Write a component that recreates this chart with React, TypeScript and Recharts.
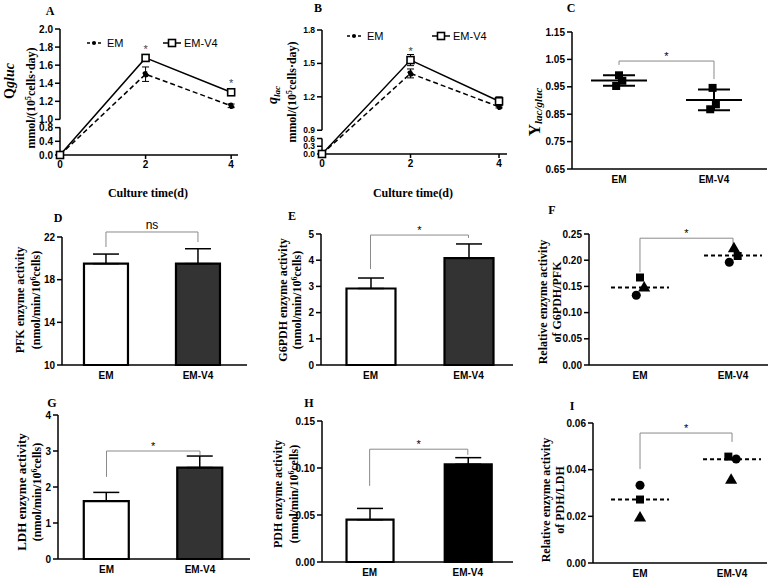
import React from "react";
import {
  Bar,
  Cell,
  ComposedChart,
  ErrorBar,
  LabelList,
  Legend,
  Line,
  ReferenceLine,
  Scatter,
  XAxis,
  YAxis,
  ZAxis,
} from "recharts";

const SANS = "'Liberation Sans', Arial, sans-serif";
const SERIF = "'Liberation Serif', 'Times New Roman', serif";

// ---- A / B: specific rates over culture time
const days = [0, 2, 4];

const qglucEM = [0, 1.5, 1.15];
const qglucEMSd = [0, 0.08, 0.02];
const qglucV4 = [0, 1.68, 1.3];
const qglucV4Sd = [0, 0.03, 0.015];
const qglucSig = [false, true, true];
const qglucTicks = [0, 0.4, 0.8, 1.0, 1.2, 1.4, 1.6, 1.8, 2.0];

const qlacEM = [0, 1.41, 1.11];
const qlacEMSd = [0, 0.04, 0.01];
const qlacV4 = [0, 1.53, 1.16];
const qlacV4Sd = [0, 0.05, 0.04];
const qlacSig = [false, true, false];
const qlacTicks = [0, 0.3, 0.6, 0.9, 1.2, 1.5, 1.8];

// ---- C: lactate / glucose yield
const groups = ["EM", "EM-V4"];
const yieldEM = [0.992, 0.972, 0.953];
const yieldV4 = [0.946, 0.886, 0.868];
const yieldEMx = [1.0, 1.035, 0.97];
const yieldV4x = [1.985, 2.02, 1.96];
const yieldMean = [0.973, 0.902];
const yieldSd = [0.019, 0.038];
const yieldTicks = [0.65, 0.75, 0.85, 0.95, 1.05, 1.15];
const yieldBracket = [1.03, 1.044, 0.978];

// ---- D, E, G, H: enzyme activities (mean, sd)
const pfk = [19.5, 19.5];
const pfkSd = [0.9, 1.4];
const pfkBracket = [21.06, 22.47, 21.53];

const g6pdh = [2.92, 4.08];
const g6pdhSd = [0.4, 0.54];
const g6pdhBracket = [3.66, 4.96, 4.85];

const ldh = [1.61, 2.54];
const ldhSd = [0.24, 0.32];
const ldhBracket = [2.28, 3.0, 2.89];

const pdh = [0.045, 0.104];
const pdhSd = [0.012, 0.007];
const pdhBracket = [0.081, 0.12, 0.114];

// ---- F: G6PDH/PFK ratio (three replicates, one marker each)
const gpCircle = [0.133, 0.196];
const gpSquare = [0.167, 0.208];
const gpTriangle = [0.147, 0.222];
const gpCircleX = [0.96, 1.96];
const gpSquareX = [1.0, 2.05];
const gpTriangleX = [1.045, 2.01];
const gpMedian = [0.148, 0.209];
const gpBracket = [0.177, 0.242, 0.229];

// ---- I: PDH/LDH ratio
const plCircle = [0.0333, 0.0446];
const plSquare = [0.0272, 0.0456];
const plTriangle = [0.0193, 0.0355];
const plCircleX = [1.0, 2.045];
const plSquareX = [1.0, 1.96];
const plTriangleX = [1.0, 1.99];
const plMedian = [0.0272, 0.0445];
const plBracket = [0.0403, 0.0557, 0.0519];

// ---------------------------------------------------------------

type Geo = { x0: number; y0: number; x1: number; y1: number };
const PAD = { top: 24, right: 12, left: 44, bottom: 26 };

function frame(g: Geo) {
  const left = g.x0 - PAD.left;
  const top = g.y0 - PAD.top;
  return {
    left,
    top,
    style: { position: "absolute" as const, left, top },
    width: g.x1 - g.x0 + PAD.left + PAD.right,
    height: g.y1 - g.y0 + PAD.top + PAD.bottom,
    margin: { top: PAD.top, right: PAD.right, bottom: 0, left: 0 },
  };
}

const axisLine = { stroke: "#000", strokeWidth: 1.5 };
const tickLine = { stroke: "#000", strokeWidth: 1.5 };
const tick = { fill: "#000", fontSize: 10, fontWeight: 700, fontFamily: SANS };

// broken y axis: values above the break are stretched and lifted
type Break = { lowMax: number; highMin: number; gap: number; k: number };
const qglucBreak: Break = { lowMax: 0.8, highMin: 1.0, gap: 0.24, k: 2.64 };
const qlacBreak: Break = { lowMax: 0.6, highMin: 0.9, gap: 0.32, k: 4.31 };
const squash = (b: Break, v: number) =>
  v <= b.lowMax ? v : b.lowMax + b.gap + (v - b.highMin) * b.k;

function timeRows(b: Break, em: number[], emSd: number[], v4: number[], v4Sd: number[], sig: boolean[]) {
  return days.map((d, i) => {
    const e = squash(b, em[i]);
    const v = squash(b, v4[i]);
    return {
      day: d,
      em: e,
      emErr: [e - squash(b, em[i] - emSd[i]), squash(b, em[i] + emSd[i]) - e],
      v4: v,
      v4Err: [v - squash(b, v4[i] - v4Sd[i]), squash(b, v4[i] + v4Sd[i]) - v],
      sig: sig[i],
    };
  });
}

const SquareDot = (p: any) => (
  <rect key={p.key} x={p.cx - 3.5} y={p.cy - 3.5} width={7} height={7} fill="#fff" stroke="#000" strokeWidth={1.6} />
);

const StarMark = (p: any) =>
  p.value ? (
    <text x={p.x} y={p.y - 5} textAnchor="middle" fontSize={11} fontFamily={SANS} fill="#444">
      *
    </text>
  ) : null;

function SeriesKey({ v4At }: { v4At: number }) {
  const txt = { position: "absolute" as const, top: 0, fontFamily: SANS, fontSize: 11, lineHeight: "12px", color: "#000" };
  return (
    <div style={{ position: "relative", width: 150, height: 12 }}>
      <svg style={{ position: "absolute", left: 0, top: 1 }} width={14} height={10}>
        <line x1={0} x2={14} y1={5} y2={5} stroke="#000" strokeWidth={1.5} strokeDasharray="3 2.5" />
        <circle cx={7} cy={5} r={2} fill="#000" />
      </svg>
      <span style={{ ...txt, left: 20 }}>EM</span>
      <svg style={{ position: "absolute", left: v4At, top: 1 }} width={18} height={10}>
        <line x1={0} x2={18} y1={5} y2={5} stroke="#000" strokeWidth={1.5} />
        <rect x={5.5} y={1.5} width={7} height={7} fill="#fff" stroke="#000" strokeWidth={1.6} />
      </svg>
      <span style={{ ...txt, left: v4At + 21 }}>EM-V4</span>
    </div>
  );
}

function bracket(b: number[], text: string) {
  const st = { stroke: "#8a8a8a", strokeWidth: 1, ifOverflow: "visible" as const };
  return [
    <ReferenceLine key="bl" segment={[{ x: 1, y: b[0] }, { x: 1, y: b[1] }]} {...st} />,
    <ReferenceLine
      key="bt"
      segment={[{ x: 1, y: b[1] }, { x: 2, y: b[1] }]}
      {...st}
      label={{
        value: text,
        position: "top",
        offset: text === "*" ? 1 : 3,
        fill: "#000",
        fontSize: text === "*" ? 11 : 12,
        fontFamily: SANS,
      }}
    />,
    <ReferenceLine key="br" segment={[{ x: 2, y: b[1] }, { x: 2, y: b[2] }]} {...st} />,
  ];
}

function TimePanel({
  g, xMax, b, rows, ticks, keyAt, v4At, tickSize,
}: {
  g: Geo; xMax: number; b: Break; rows: any[]; ticks: number[]; keyAt: [number, number]; v4At: number; tickSize: number;
}) {
  const c = frame(g);
  const top = squash(b, ticks[ticks.length - 1]);
  const pos = ticks.map((v) => squash(b, v));
  const seg = { stroke: "#000", strokeWidth: 1.5, ifOverflow: "visible" as const };
  return (
    <div style={c.style}>
      <ComposedChart width={c.width} height={c.height} data={rows} margin={c.margin}>
        <XAxis type="number" dataKey="day" domain={[0, xMax]} ticks={[0, 2, 4]} interval={0}
          height={PAD.bottom} axisLine={axisLine} tickLine={tickLine} tickSize={4} tick={tick} />
        <YAxis type="number" domain={[0, top]} ticks={pos} interval={0} width={PAD.left}
          tickFormatter={(_v: number, i: number) => ticks[i].toFixed(1)}
          axisLine={false} tickLine={tickLine} tickSize={5} tick={{ ...tick, fontSize: tickSize }} />
        <ReferenceLine segment={[{ x: 0, y: 0 }, { x: 0, y: squash(b, b.lowMax) }]} {...seg} />
        <ReferenceLine segment={[{ x: 0, y: squash(b, b.highMin) }, { x: 0, y: top }]} {...seg} />
        <Line dataKey="em" stroke="#000" strokeWidth={1.5} strokeDasharray="5 3"
          dot={{ r: 2.5, fill: "#000", stroke: "#000" }} isAnimationActive={false}>
          <ErrorBar dataKey="emErr" direction="y" width={3.5} stroke="#000" strokeWidth={1} />
        </Line>
        <Line dataKey="v4" stroke="#000" strokeWidth={1.5} dot={SquareDot} isAnimationActive={false}>
          <ErrorBar dataKey="v4Err" direction="y" width={3.5} stroke="#000" strokeWidth={1} />
          <LabelList dataKey="sig" content={StarMark} />
        </Line>
        <Legend
          content={() => <SeriesKey v4At={v4At} />}
          wrapperStyle={{ left: keyAt[0] - c.left, top: keyAt[1] - 6 - c.top, width: 150, height: 12 }}
        />
      </ComposedChart>
    </div>
  );
}

function BarPanel({
  g, xDomain, values, sd, yDomain, yTicks, digits, barSize, darkFill, br, mark,
}: {
  g: Geo; xDomain: [number, number]; values: number[]; sd: number[]; yDomain: [number, number];
  yTicks: number[]; digits: number; barSize: number; darkFill: string; br: number[]; mark: string;
}) {
  const c = frame(g);
  const rows = groups.map((name, i) => ({ x: i + 1, name, v: values[i], err: [0, sd[i]] }));
  return (
    <div style={c.style}>
      <ComposedChart width={c.width} height={c.height} data={rows} margin={c.margin}>
        <XAxis type="number" dataKey="x" domain={xDomain} ticks={[1, 2]} interval={0}
          tickFormatter={(v: number) => groups[v - 1]}
          height={PAD.bottom} axisLine={axisLine} tickLine={false} tickSize={5} tick={tick} />
        <YAxis type="number" domain={yDomain} ticks={yTicks} interval={0} width={PAD.left}
          tickFormatter={(v: number) => v.toFixed(digits)}
          axisLine={axisLine} tickLine={tickLine} tickSize={5} tick={tick} />
        <Bar dataKey="v" barSize={barSize} stroke="#000" strokeWidth={2.2} isAnimationActive={false}>
          {rows.map((r, i) => (
            <Cell key={r.name} fill={i === 0 ? "#fff" : darkFill} />
          ))}
          <ErrorBar dataKey="err" direction="y" width={13} stroke="#000" strokeWidth={1.5} />
        </Bar>
        {bracket(br, mark)}
      </ComposedChart>
    </div>
  );
}

const MedianBar = (p: any) => (
  <line key={p.key} x1={p.cx - 29} x2={p.cx + 29} y1={p.cy} y2={p.cy} stroke="#000" strokeWidth={2} strokeDasharray="4 3" />
);
const MeanBar = (p: any) => (
  <line key={p.key} x1={p.cx - 28} x2={p.cx + 28} y1={p.cy} y2={p.cy} stroke="#000" strokeWidth={2} />
);

function RatioPanel({
  g, xDomain, yDomain, yTicks, circle, circleX, square, squareX, triangle, triangleX, median, br,
}: {
  g: Geo; xDomain: [number, number]; yDomain: [number, number]; yTicks: number[];
  circle: number[]; circleX: number[]; square: number[]; squareX: number[];
  triangle: number[]; triangleX: number[]; median: number[]; br: number[];
}) {
  const c = frame(g);
  const pts = (ys: number[], xs: number[]) => ys.map((y, i) => ({ x: xs[i], y }));
  return (
    <div style={c.style}>
      <ComposedChart width={c.width} height={c.height} margin={c.margin}>
        <XAxis type="number" dataKey="x" domain={xDomain} ticks={[1, 2]} interval={0}
          tickFormatter={(v: number) => groups[v - 1]}
          height={PAD.bottom} axisLine={axisLine} tickLine={false} tickSize={5} tick={tick} />
        <YAxis type="number" dataKey="y" domain={yDomain} ticks={yTicks} interval={0} width={PAD.left}
          tickFormatter={(v: number) => v.toFixed(2)}
          axisLine={axisLine} tickLine={tickLine} tickSize={5} tick={tick} />
        <ZAxis range={[42, 42]} />
        <Scatter data={pts(median, [1, 2])} shape={MedianBar} isAnimationActive={false} />
        <Scatter data={pts(circle, circleX)} shape="circle" fill="#000" isAnimationActive={false} />
        <Scatter data={pts(square, squareX)} shape="square" fill="#000" isAnimationActive={false} />
        <Scatter data={pts(triangle, triangleX)} shape="triangle" fill="#000" isAnimationActive={false} />
        {bracket(br, "*")}
      </ComposedChart>
    </div>
  );
}

function YieldPanel({ g, xDomain }: { g: Geo; xDomain: [number, number] }) {
  const c = frame(g);
  const pts = [
    ...yieldEM.map((y, i) => ({ x: yieldEMx[i], y })),
    ...yieldV4.map((y, i) => ({ x: yieldV4x[i], y })),
  ];
  const means = yieldMean.map((y, i) => ({ x: i + 1, y, err: yieldSd[i] }));
  return (
    <div style={c.style}>
      <ComposedChart width={c.width} height={c.height} margin={c.margin}>
        <XAxis type="number" dataKey="x" domain={xDomain} ticks={[1, 2]} interval={0}
          tickFormatter={(v: number) => groups[v - 1]}
          height={PAD.bottom} axisLine={axisLine} tickLine={false} tickSize={5} tick={tick} />
        <YAxis type="number" dataKey="y" domain={[0.65, 1.15]} ticks={yieldTicks} interval={0} width={PAD.left}
          tickFormatter={(v: number) => v.toFixed(2)}
          axisLine={axisLine} tickLine={tickLine} tickSize={5} tick={tick} />
        <ZAxis range={[24, 24]} />
        <Scatter data={pts} shape="square" fill="#000" isAnimationActive={false} />
        <Scatter data={means} shape={MeanBar} isAnimationActive={false}>
          <ErrorBar dataKey="err" direction="y" width={16} stroke="#000" strokeWidth={2} />
        </Scatter>
        {bracket(yieldBracket, "*")}
      </ComposedChart>
    </div>
  );
}

function VText({ x, y, size = 12, children }: { x: number; y: number; size?: number; children: React.ReactNode }) {
  return (
    <div
      style={{
        position: "absolute", left: x, top: y, transform: "translate(-50%,-50%) rotate(-90deg)",
        whiteSpace: "nowrap", fontFamily: SERIF, fontWeight: 700, fontSize: size, lineHeight: 1, color: "#000",
      }}
    >
      {children}
    </div>
  );
}

function HText({ x, y, size = 12, children }: { x: number; y: number; size?: number; children: React.ReactNode }) {
  return (
    <div
      style={{
        position: "absolute", left: x, top: y, transform: "translate(-50%,-50%)",
        whiteSpace: "nowrap", fontFamily: SERIF, fontWeight: 700, fontSize: size, lineHeight: 1, color: "#000",
      }}
    >
      {children}
    </div>
  );
}

const Sup = ({ children }: { children: React.ReactNode }) => (
  <span style={{ fontSize: "0.65em", verticalAlign: "0.55em" }}>{children}</span>
);
const Sub = ({ children }: { children: React.ReactNode }) => (
  <span style={{ fontSize: "0.65em", verticalAlign: "-0.25em" }}>{children}</span>
);
const perCells = (
  <>
    (nmol/min/10<Sup>6</Sup>cells)
  </>
);

export default function App() {
  return (
    <div style={{ position: "absolute", left: 0, top: 0, width: 783, height: 579, background: "#fff", overflow: "hidden" }}>
      <TimePanel g={{ x0: 60, y0: 29, x1: 238, y1: 167 }} xMax={4.16} b={qglucBreak}
        rows={timeRows(qglucBreak, qglucEM, qglucEMSd, qglucV4, qglucV4Sd, qglucSig)}
        ticks={qglucTicks} keyAt={[87, 43]} v4At={76} tickSize={10} />
      <TimePanel g={{ x0: 322, y0: 30, x1: 507, y1: 166 }} xMax={4.18} b={qlacBreak}
        rows={timeRows(qlacBreak, qlacEM, qlacEMSd, qlacV4, qlacV4Sd, qlacSig)}
        ticks={qlacTicks} keyAt={[347, 36]} v4At={85} tickSize={8.5} />
      <YieldPanel g={{ x0: 572, y0: 32, x1: 767, y1: 169 }} xDomain={[0.505, 2.558]} />

      <BarPanel g={{ x0: 62, y0: 237, x1: 247, y1: 365 }} xDomain={[0.522, 2.533]} values={pfk} sd={pfkSd}
        yDomain={[10, 22]} yTicks={[10, 14, 18, 22]} digits={0} barSize={44} darkFill="#333"
        br={pfkBracket} mark="ns" />
      <BarPanel g={{ x0: 321, y0: 234, x1: 513, y1: 365 }} xDomain={[0.495, 2.454]} values={g6pdh} sd={g6pdhSd}
        yDomain={[0, 5]} yTicks={[0, 1, 2, 3, 4, 5]} digits={0} barSize={49} darkFill="#333"
        br={g6pdhBracket} mark="*" />
      <RatioPanel g={{ x0: 589, y0: 234, x1: 768, y1: 365 }} xDomain={[0.452, 2.376]} yDomain={[0, 0.25]}
        yTicks={[0, 0.05, 0.1, 0.15, 0.2, 0.25]} circle={gpCircle} circleX={gpCircleX} square={gpSquare}
        squareX={gpSquareX} triangle={gpTriangle} triangleX={gpTriangleX} median={gpMedian} br={gpBracket} />

      <BarPanel g={{ x0: 58, y0: 415, x1: 250, y1: 559 }} xDomain={[0.481, 2.535]} values={ldh} sd={ldhSd}
        yDomain={[0, 4]} yTicks={[0, 1, 2, 3, 4]} digits={0} barSize={45} darkFill="#333"
        br={ldhBracket} mark="*" />
      <BarPanel g={{ x0: 322, y0: 421, x1: 513, y1: 562 }} xDomain={[0.515, 2.46]} values={pdh} sd={pdhSd}
        yDomain={[0, 0.15]} yTicks={[0, 0.05, 0.1, 0.15]} digits={2} barSize={47} darkFill="#000"
        br={pdhBracket} mark="*" />
      <RatioPanel g={{ x0: 593, y0: 423, x1: 767, y1: 563 }} xDomain={[0.489, 2.38]} yDomain={[0, 0.06]}
        yTicks={[0, 0.02, 0.04, 0.06]} circle={plCircle} circleX={plCircleX} square={plSquare}
        squareX={plSquareX} triangle={plTriangle} triangleX={plTriangleX} median={plMedian} br={plBracket} />

      {/* panel letters */}
      <HText x={50} y={11}>A</HText>
      <HText x={318} y={8}>B</HText>
      <HText x={571} y={8}>C</HText>
      <HText x={58} y={218}>D</HText>
      <HText x={292} y={216}>E</HText>
      <HText x={552} y={210}>F</HText>
      <HText x={52} y={403}>G</HText>
      <HText x={309} y={403}>H</HText>
      <HText x={572} y={406}>I</HText>

      {/* x titles */}
      <HText x={148} y={193}>Culture time(d)</HText>
      <HText x={413} y={193}>Culture time(d)</HText>

      {/* y titles */}
      <VText x={10} y={81} size={14}>Q<i>gluc</i></VText>
      <VText x={31} y={98}>mmol/(10<Sup>5</Sup>cells·day)</VText>
      <VText x={274} y={95} size={14}><i>q<Sub>lac</Sub></i></VText>
      <VText x={292} y={92}>mmol/(10<Sup>5</Sup>cells·day)</VText>
      <VText x={535} y={112} size={17}>Y<Sub><i>lac/gluc</i></Sub></VText>

      <VText x={20} y={300}>PFK enzyme activity</VText>
      <VText x={36} y={300}>{perCells}</VText>
      <VText x={283} y={300}>G6PDH enzyme activity</VText>
      <VText x={297} y={300}>{perCells}</VText>
      <VText x={543} y={302}>Relative enzyme activity</VText>
      <VText x={557} y={302}>of G6PDH/PFK</VText>

      <VText x={21} y={492} size={13}>LDH enzyme activity</VText>
      <VText x={37} y={492}>{perCells}</VText>
      <VText x={278} y={494}>PDH enzyme activity</VText>
      <VText x={294} y={494}>{perCells}</VText>
      <VText x={546} y={500}>Relative enzyme activity</VText>
      <VText x={560} y={500}>of PDH/LDH</VText>
    </div>
  );
}
